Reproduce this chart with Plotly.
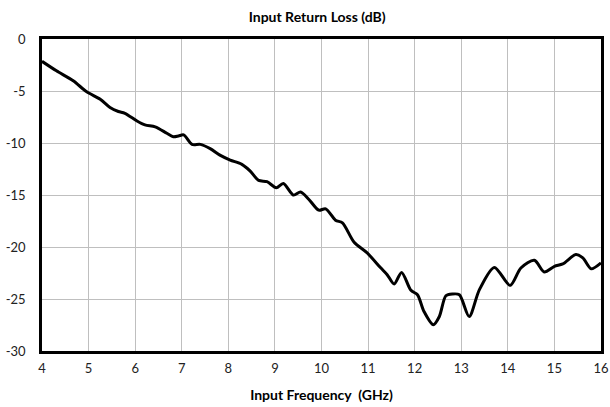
import plotly.graph_objects as go

# 頻率 (GHz) 與輸入回波損耗 (dB)
freq_ghz = [4.00, 4.31, 4.67, 4.96, 5.25, 5.46, 5.64, 5.78, 6.04, 6.21, 6.43, 6.68,
            6.82, 6.93, 7.04, 7.22, 7.40, 7.61, 7.83, 8.04, 8.29, 8.47, 8.65, 8.83,
            9.03, 9.18, 9.40, 9.55, 9.73, 9.94, 10.09, 10.30, 10.45, 10.70, 10.98,
            11.27, 11.41, 11.56, 11.72, 11.92, 12.06, 12.20, 12.40, 12.53, 12.67,
            12.81, 12.96, 13.17, 13.39, 13.71, 14.05, 14.28, 14.57, 14.78, 15.00,
            15.18, 15.46, 15.61, 15.79, 16.00]
return_loss_db = [-2.15, -3.06, -4.02, -5.08, -5.79, -6.59, -6.97, -7.14, -7.88, -8.26,
                  -8.45, -9.06, -9.39, -9.32, -9.22, -10.13, -10.13, -10.54, -11.19,
                  -11.64, -12.05, -12.70, -13.60, -13.72, -14.30, -13.89, -15.01,
                  -14.72, -15.43, -16.46, -16.33, -17.42, -17.68, -19.55, -20.57,
                  -22.00, -22.66, -23.56, -22.44, -24.17, -24.59, -26.20, -27.48,
                  -26.68, -24.69, -24.52, -24.59, -26.68, -24.10, -21.96, -23.69,
                  -22.02, -21.28, -22.40, -21.86, -21.63, -20.73, -21.05, -22.10,
                  -21.53]

x_ticks = [4, 5, 6, 7, 8, 9, 10, 11, 12, 13, 14, 15, 16]
y_ticks = [0, -5, -10, -15, -20, -25, -30]
y_tick_labels = ["0", "-5", "-10", "-15", "-20", "-25", "-30"]

FONT = "Lato, 'Open Sans', sans-serif"

fig = go.Figure()

# 回波損耗曲線：黑色平滑粗線
fig.add_trace(
    go.Scatter(
        x=freq_ghz,
        y=return_loss_db,
        mode="lines",
        line={"color": "black", "width": 3, "shape": "spline", "smoothing": 0.8},
        showlegend=False,
    )
)

axis_common = dict(
    showgrid=True,
    gridcolor="#bfbfbf",
    gridwidth=1,
    showline=True,
    linecolor="black",
    linewidth=2.5,
    mirror=True,
    zeroline=False,
    ticks="",
    automargin=False,
    tickfont={"family": FONT, "size": 13, "color": "#222"},
)

fig.update_xaxes(
    range=[4, 16],
    tickvals=x_ticks,
    title={"text": "<b>Input Frequency  (GHz)</b>", "font": {"family": FONT, "size": 14, "color": "black"}, "standoff": 15},
    ticklabelstandoff=4,
    **axis_common,
)
fig.update_yaxes(
    range=[-30, 0],
    tickvals=y_ticks,
    ticktext=y_tick_labels,
    ticklabelstandoff=11,
    **axis_common,
)

fig.update_layout(
    width=610,
    height=407,
    margin={"l": 42, "r": 9, "t": 39, "b": 56},
    paper_bgcolor="white",
    plot_bgcolor="white",
    title={
        "text": "<b>Input Return Loss (dB)</b>",
        "x": 0.52,
        "xanchor": "center",
        "y": 0.958,
        "yanchor": "middle",
        "font": {"family": FONT, "size": 14, "color": "black"},
    },
)

# 去掉頁面預設的 8px 邊距，讓圖面貼齊視窗；並隱藏工具列
fig.write_html(
    "out.html",
    config={"displayModeBar": False},
    post_script="document.body.style.margin = '0';",
)
